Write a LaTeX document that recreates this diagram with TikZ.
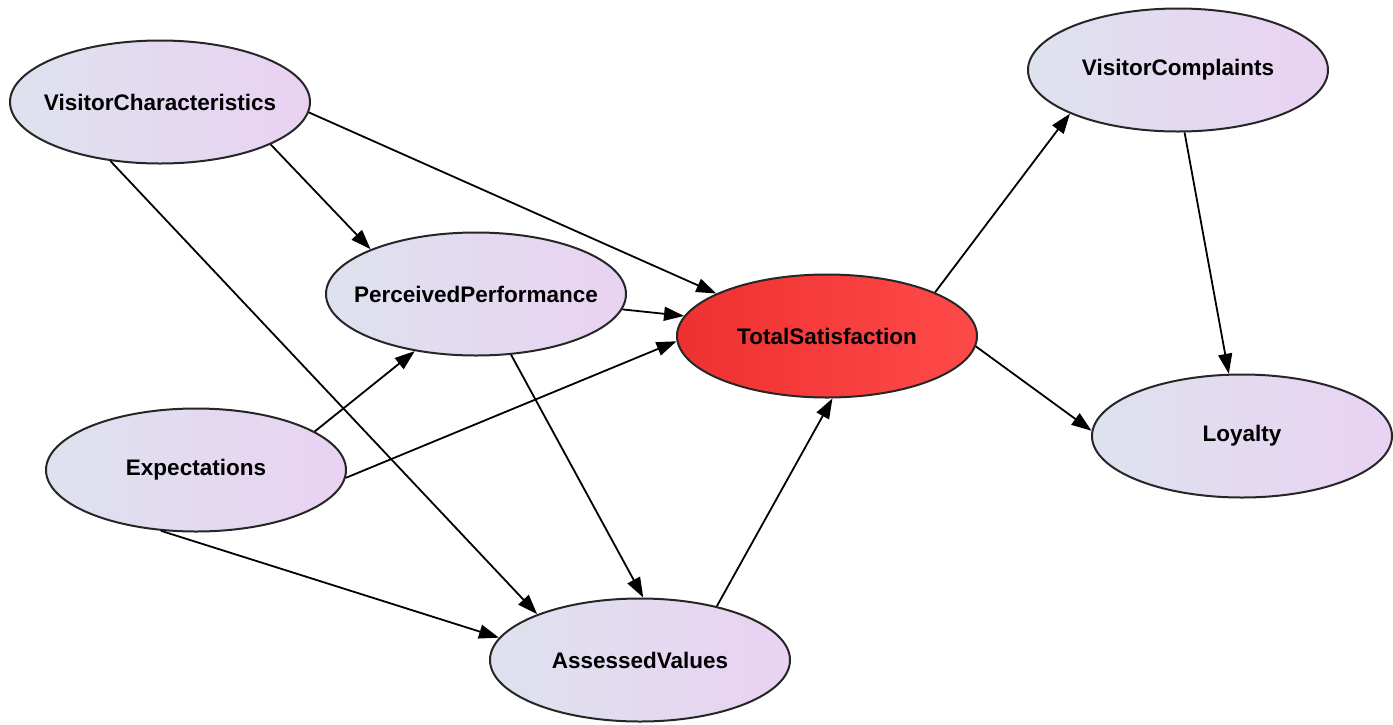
\documentclass[tikz,border=0pt]{standalone}
\usepackage{fontspec}
\setmainfont{Liberation Sans}
\usetikzlibrary{positioning,shapes.geometric,arrows.meta}

\definecolor{stateleft}{RGB}{222,226,238}
\definecolor{stateright}{RGB}{233,210,242}
\definecolor{hotleft}{RGB}{238,48,48}
\definecolor{hotright}{RGB}{255,74,74}

\tikzset{
  state/.style={ellipse, draw=black!85, line width=1pt, minimum width=150pt, minimum height=61.5pt,
    inner xsep=-8pt, inner ysep=0pt, left color=stateleft, right color=stateright,
    font=\fontsize{11.25}{13}\selectfont\bfseries},
  hotstate/.style={state, left color=hotleft, right color=hotright},
  link/.style={line width=0.9pt, -{Triangle[length=10pt,width=7pt]}}
}

\begin{document}
\begin{tikzpicture}[x=0.5pt, y=-0.5pt]
\useasboundingbox (0,0) rectangle (1393,724);

\node[state] (vchar) at (160,102) {VisitorCharacteristics};
\node[state] (vcomp) at (1178,70) {VisitorComplaints};
\node[state] (perf) at (476,294) {PerceivedPerformance};
\node[hotstate] (total) at (827,336) {TotalSatisfaction};
\node[state] (loyal) at (1242,436) {Loyalty};
\node[state] (expect) at (196,470) {Expectations};
\node[state] (assess) at (640,660) {AssessedValues};

\draw[link] (vchar.339) -- (perf.157);
\draw[link] (vchar.356) -- (total.159);
\draw[link] (vchar.230) -- (assess.156);
\draw[link] (perf.354) -- (total.172);
\draw[link] (perf.300) -- (assess.87);
\draw[link] (expect.18) -- (perf.223);
\draw[link] (expect.357) -- (total.182);
\draw[link] (expect.240) -- (assess.171);
\draw[link] (assess.35) -- (total.275);
\draw[link] (total.22) -- (vcomp.202);
\draw[link] (total.356) -- (loyal.178);
\draw[link] (vcomp.276) -- (loyal.102);

\end{tikzpicture}
\end{document}
